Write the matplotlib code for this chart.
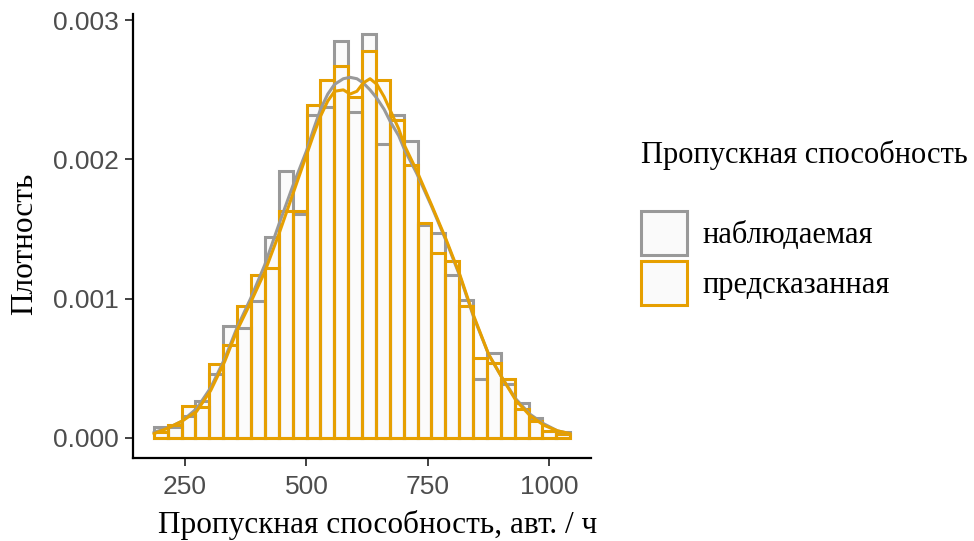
import numpy as np
import matplotlib
matplotlib.use("Agg")
import matplotlib.pyplot as plt
from matplotlib.patches import Patch

# ---- data ----
bin_edges = np.linspace(186, 1043, 31)

observed = [0.000076, 0.00008, 0.00016, 0.000267, 0.000455, 0.00080, 0.00079, 0.00098,
            0.00144, 0.00192, 0.00161, 0.00232, 0.00238, 0.00285, 0.00234, 0.00290,
            0.00211, 0.00232, 0.00213, 0.00153, 0.00147, 0.00117, 0.00099, 0.00042,
            0.00061, 0.00039, 0.00025, 0.00014, 0.00005, 0.00004]

predicted = [0.000045, 0.00009, 0.00023, 0.00022, 0.00053, 0.00067, 0.00095, 0.00117,
             0.00122, 0.00163, 0.00163, 0.00239, 0.00257, 0.00267, 0.00245, 0.00278,
             0.00257, 0.00228, 0.00196, 0.00154, 0.00133, 0.00127, 0.00095, 0.00057,
             0.00054, 0.00042, 0.00021, 0.00012, 0.00005, 0.00003]

kde_x = [186, 215, 244, 274, 303, 332, 357, 385, 414, 443, 472, 500, 515, 529, 544,
         558, 576, 590, 604, 617, 631, 645, 660, 673, 690, 702, 727, 758, 787, 816,
         844, 875, 903, 931, 960, 989, 1017, 1043]

kde_observed = [0.00004, 0.00007, 0.00012, 0.00021, 0.00036, 0.00057, 0.00079, 0.00100,
                0.00124, 0.00153, 0.00181, 0.00206, 0.00222, 0.00236, 0.00247, 0.00254,
                0.00258, 0.00259, 0.00258, 0.00255, 0.00250, 0.00244, 0.00236, 0.00227,
                0.00217, 0.00207, 0.00190, 0.00166, 0.00142, 0.00116, 0.00087, 0.00060,
                0.00043, 0.00028, 0.00017, 0.00010, 0.00005, 0.00003]

kde_predicted = [0.00003, 0.00007, 0.00012, 0.00019, 0.00034, 0.00055, 0.00077, 0.00097,
                 0.00119, 0.00146, 0.00175, 0.00203, 0.00218, 0.00231, 0.00242, 0.00249,
                 0.00250, 0.00247, 0.00249, 0.00255, 0.00258, 0.00254, 0.00245, 0.00235,
                 0.00222, 0.00210, 0.00192, 0.00167, 0.00143, 0.00117, 0.00088, 0.00060,
                 0.00043, 0.00027, 0.00016, 0.00009, 0.00005, 0.00003]

series_labels = ["наблюдаемая", "предсказанная"]
x_ticks = [250, 500, 750, 1000]
y_ticks = [0.000, 0.001, 0.002, 0.003]

# ---- style ----
GRAY = "#999999"
ORANGE = "#E69F00"
FILL = (0.985, 0.985, 0.985)
serif = ["Liberation Serif", "DejaVu Serif"]
sans = ["Liberation Sans", "DejaVu Sans"]
LW = 2.2

fig = plt.figure(figsize=(9.74, 5.41), dpi=100)
ax = fig.add_axes([0.1366, 0.1534, 0.4702, 0.8207])

widths = np.diff(bin_edges)
lefts = bin_edges[:-1]
# fills underneath
ax.bar(lefts, observed, width=widths, align="edge", facecolor=FILL,
       edgecolor="none", zorder=1)
ax.bar(lefts, predicted, width=widths, align="edge", facecolor=FILL,
       edgecolor="none", zorder=1)
# outlines
ax.bar(lefts, observed, width=widths, align="edge", fill=False,
       edgecolor=GRAY, linewidth=LW, zorder=2)
ax.bar(lefts, predicted, width=widths, align="edge", fill=False,
       edgecolor=ORANGE, linewidth=LW, zorder=3)
ax.plot(kde_x, kde_observed, color=GRAY, linewidth=LW, zorder=4,
        solid_capstyle="round", solid_joinstyle="round")
ax.plot(kde_x, kde_predicted, color=ORANGE, linewidth=LW, zorder=5,
        solid_capstyle="round", solid_joinstyle="round")

lo, hi = bin_edges[0], bin_edges[-1]
pad = 0.05 * (hi - lo)
ax.set_xlim(lo - pad, hi + pad)
ymax = max(max(observed), max(predicted))
ax.set_ylim(-0.05 * ymax, 1.05 * ymax)

ax.set_xticks(x_ticks)
ax.set_xticklabels([str(t) for t in x_ticks])
ax.set_yticks(y_ticks)
ax.set_yticklabels([f"{t:.3f}" for t in y_ticks])

for s in ["top", "right"]:
    ax.spines[s].set_visible(False)
for s in ["left", "bottom"]:
    ax.spines[s].set_linewidth(1.6)
    ax.spines[s].set_color("black")

ax.tick_params(axis="both", length=5.5, width=1.3, color="#333333",
               labelcolor="#4D4D4D", labelsize=19)
ax.tick_params(axis="x", pad=7)
ax.tick_params(axis="y", pad=5)
for lab in ax.get_xticklabels() + ax.get_yticklabels():
    lab.set_family(sans)

ax.set_xlabel("Пропускная способность, авт. / ч", family=serif, fontsize=22.5,
              color="black", labelpad=8)
ax.set_ylabel("Плотность", family=serif, fontsize=22.5, color="black", labelpad=10)
ax.xaxis.label.set_x(0.533)
ax.yaxis.label.set_y(0.482)

handles = [Patch(facecolor=(0.98, 0.98, 0.98), edgecolor=GRAY, linewidth=LW),
           Patch(facecolor=(0.98, 0.98, 0.98), edgecolor=ORANGE, linewidth=LW)]
leg = fig.legend(handles, series_labels, title="Пропускная способность",
                 loc="upper left", bbox_to_anchor=(0.658, 0.742), frameon=False,
                 prop={"family": serif, "size": 22},
                 title_fontproperties={"family": serif, "size": 22},
                 handlelength=1.5, handleheight=1.85, handletextpad=0.5,
                 labelspacing=0.17, borderaxespad=0, borderpad=0)
leg._legend_box.align = "left"
leg._legend_box.sep = 30
leg.get_title().set_color("black")

fig.savefig("out.png", dpi=100)
